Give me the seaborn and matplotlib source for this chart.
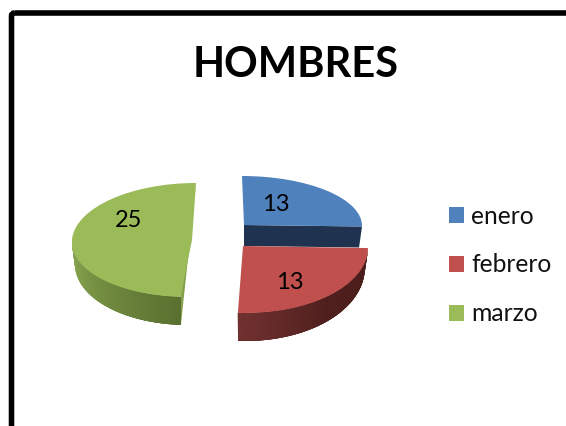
import numpy as np
import matplotlib
matplotlib.use("Agg")
import matplotlib.pyplot as plt
from matplotlib.transforms import Affine2D
from matplotlib.patches import FancyBboxPatch, Polygon, Patch
from matplotlib.collections import PolyCollection
from matplotlib.colors import to_rgb
import seaborn as sns

title = "HOMBRES"
months = ["enero", "febrero", "marzo"]
values = [13, 13, 25]
top_colors = ["#4F81BD", "#C0504D", "#9BBB59"]

# Layout of each exploded slice in pixel space: centre, radii, shear, extrusion
centres = [(244, 225), (243, 246), (192, 240)]
radii = [(118, 49), (125, 67), (120, 57)]
shears = [-2, -2.6, 4]
depths = [(21, 0), (20, 8), (22, 6)]
label_pos = [(276, 204.5), (290, 282.5), (129, 220.5)]
side_stops = [
    ["#1F3350", "#1F3350"],
    ["#4A1C1A", "#4E1F1D", "#703130"],
    ["#8FAB52", "#728C40", "#5A7030"],
]

sns.set_theme(style="white")
plt.rcParams["font.family"] = ["Lato", "DejaVu Sans"]

fig = plt.figure(figsize=(5.66, 4.26), dpi=100, facecolor="white")
ax = fig.add_axes([0, 0, 1, 1])
wedges, _ = ax.pie(values, startangle=90, counterclock=False,
                   colors=sns.color_palette(top_colors))
ax.set_aspect("auto")
ax.set_xlim(0, 566)
ax.set_ylim(426, 0)
ax.axis("off")


def rim(i, deg):
    t = np.radians(deg)
    cx, cy = centres[i]
    rx, ry = radii[i]
    X, Y = np.cos(t), np.sin(t)
    return cx + rx * X + shears[i] * Y, cy - ry * Y


def drop(i, deg):
    x, y = rim(i, deg)
    d0, d1 = depths[i]
    s = np.abs(np.sin(np.radians(deg)))
    return x - 0.025 * (x - centres[i][0]), y + d0 + d1 * s


def wall(i, start, stop):
    """Outer wall between two angles, shaded from start to stop."""
    ths = np.linspace(start, stop, 80)
    stops = np.array([to_rgb(c) for c in side_stops[i]])
    xp = np.linspace(0, 1, len(stops))
    quads, cols = [], []
    for k in range(len(ths) - 1):
        # each strip overlaps the next ones so no seams show
        e = ths[min(k + 4, len(ths) - 1)]
        quads.append([rim(i, ths[k]), rim(i, e), drop(i, e), drop(i, ths[k])])
        f = k / (len(ths) - 2)
        cols.append([np.interp(f, xp, stops[:, c]) for c in range(3)])
    ax.add_collection(PolyCollection(quads, facecolors=cols, edgecolors="none",
                                     linewidths=0, zorder=3 * i + 2))


for i, w in enumerate(wedges):
    cx, cy = centres[i]
    rx, ry = radii[i]
    # the unit wedge from ax.pie is placed by an affine map
    aff = Affine2D(np.array([[rx, shears[i], cx], [0, -ry, cy], [0, 0, 1]], dtype=float))
    w.set_transform(aff + ax.transData)
    w.set_edgecolor("none")
    w.set_zorder(3 * i + 3)
    lo, hi = w.theta1, w.theta2
    if i == 0:
        # dark radial cut face under enero's lower edge
        pts = [(cx, cy), rim(i, lo), drop(i, lo), (cx, cy + depths[i][0])]
        ax.add_patch(Polygon(pts, closed=True, fc=side_stops[i][0], ec="none", zorder=1))
    elif i == 1:
        wall(i, hi, lo)
    else:
        wall(i, -180, hi)
        # sliver of the radial cut on marzo's right side
        pts = [rim(i, hi), rim(i, lo), drop(i, hi)]
        ax.add_patch(Polygon(pts, closed=True, fc="#84A04A", ec="none", zorder=3 * i + 1))

for (x, y), v in zip(label_pos, values):
    ax.text(x, y, str(v), ha="center", va="center", fontsize=17, color="black", zorder=20)

ax.text(296, 65, title, ha="center", va="center", fontsize=30, fontweight="bold",
        color="black", zorder=20)

ax.add_patch(FancyBboxPatch((11.5, 13), 700, 600, boxstyle="round,pad=0,rounding_size=3",
                            fc="none", ec="black", lw=4, zorder=25))

handles = [Patch(facecolor=c, edgecolor="none") for c in top_colors]
leg = ax.legend(handles, months, loc="center left", bbox_to_anchor=(449, 265),
                bbox_transform=ax.transData, frameon=False, fontsize=17.7,
                handlelength=0.62, handleheight=0.62, handletextpad=0.27,
                labelspacing=1.05, borderpad=0, borderaxespad=0)
for t in leg.get_texts():
    t.set_color("#111111")

fig.savefig("out.png", dpi=100, facecolor="white")
